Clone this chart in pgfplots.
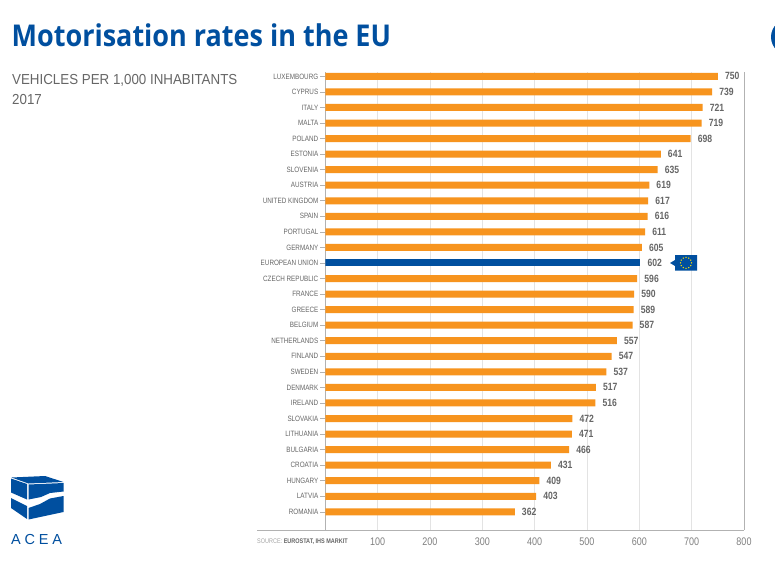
\documentclass[border=0pt]{standalone}
\usepackage{fontspec}
\setmainfont{Liberation Sans}
\newfontfamily\cond[FakeStretch=0.82]{Liberation Sans}
\newfontfamily\subfont[FakeStretch=0.92]{Liberation Sans}
\newfontfamily\titlefont[FakeStretch=0.9]{Open Sans}
\usepackage{pgfplots}
\pgfplotsset{compat=1.18}
\definecolor{aceablue}{HTML}{004F9F}
\definecolor{aceaorange}{HTML}{F7941E}
\definecolor{labgrey}{HTML}{666666}
\definecolor{tickgrey}{HTML}{808080}
\definecolor{gridgrey}{HTML}{E3E3E3}

\begin{document}
\begin{tikzpicture}[x=1pt,y=1pt]
\clip (0,0) rectangle (775,566);
\fill[white] (0,0) rectangle (775,566);
\begin{axis}[
    at={(325.3pt,36pt)}, anchor=south west,
    scale only axis,
    width=418.7pt, height=457.6pt,
    xmin=0, xmax=800,
    ymin=-0.255, ymax=29.17,
    y dir=reverse,
    axis lines=left,
    axis line style={-, draw=black!30, line width=0.8pt},
    /pgf/number format/assume math mode=true,
    xtick={100,200,300,400,500,600,700,800},
    ytick={0,1,...,28},
    yticklabels={LUXEMBOURG,CYPRUS,ITALY,MALTA,POLAND,ESTONIA,SLOVENIA,AUSTRIA,UNITED KINGDOM,SPAIN,PORTUGAL,GERMANY,EUROPEAN UNION,CZECH REPUBLIC,FRANCE,GREECE,BELGIUM,NETHERLANDS,FINLAND,SWEDEN,DENMARK,IRELAND,SLOVAKIA,LITHUANIA,BULGARIA,CROATIA,HUNGARY,LATVIA,ROMANIA},
    xticklabel style={font=\cond\fontsize{11}{11}\selectfont, text=tickgrey, yshift=1pt},
    yticklabel style={font=\cond\fontsize{7.7}{7.7}\selectfont, text=labgrey, xshift=1.5pt},
    xtick style={draw=none},
    ytick style={draw=black!30, line width=0.6pt},
    tick align=outside,
    major tick length=5pt,
    xmajorgrids,
    major grid style={draw=gridgrey, line width=0.8pt},
    xbar, bar width=7pt, bar shift=0pt,
    point meta=x,
    nodes near coords,
    every node near coord/.append style={font=\cond\bfseries\fontsize{10.5}{10.5}\selectfont, text=labgrey, inner sep=0pt, xshift=7pt},
]
\addplot[fill=aceaorange, draw=none] coordinates {
    (750,0) (739,1) (721,2) (719,3) (698,4) (641,5) (635,6) (619,7) (617,8) (616,9)
    (611,10) (605,11) (596,13) (590,14) (589,15) (587,16) (557,17) (547,18) (537,19)
    (517,20) (516,21) (472,22) (471,23) (466,24) (431,25) (409,26) (403,27) (362,28)
};
\addplot[fill=aceablue, draw=none] coordinates {(602,12)};
\end{axis}
\begin{scope}[shift={(0,566)}, y=-1pt]
    % frame lines
    \draw[black!30, line width=0.8pt] (257,530) -- (744,530);
    \draw[black!30, line width=0.8pt] (744,72.5) -- (744,530);
    % heading
    \node[anchor=base west, inner sep=0pt, text=aceablue, font=\titlefont\bfseries\fontsize{30}{30}\selectfont] at (11.5,46.5) {Motorisation rates in the EU};
    \node[anchor=base west, inner sep=0pt, text=labgrey, font=\subfont\fontsize{14.5}{14.5}\selectfont] at (12,85) {VEHICLES PER 1,000 INHABITANTS};
    \node[anchor=base west, inner sep=0pt, text=labgrey, font=\subfont\fontsize{14.5}{14.5}\selectfont] at (12,105) {2017};
    % clipped circle at the right edge
    \fill[aceablue] (789,37) circle (18);
    % source
    \node[anchor=base west, inner sep=0pt, font=\cond\fontsize{6.7}{6.7}\selectfont, text=black!35] at (257,543.5) {SOURCE: \textcolor{labgrey}{\bfseries EUROSTAT, IHS MARKIT}};
    % EU flag callout
    \fill[aceablue] (670,263) -- (675,260) -- (675,255) -- (697,255) -- (697,270.5) -- (675,270.5) -- (675,266) -- cycle;
    \foreach \a in {0,30,...,330}
        \fill[yellow!85!orange] ({686+5.5*cos(\a)},{262.8+5.5*sin(\a)}) circle (0.75);
    % ACEA logo
    \fill[aceablue] (11,478.5) -- (27,484) -- (27,499.5) -- (11,492.5) -- cycle;
    \fill[aceablue] (11.5,477.5) -- (45,476) -- (63.5,482) -- (28.5,483.5) -- cycle;
    \fill[aceablue] (28.5,484.5) -- (63.5,483) -- (63.5,491.5) -- (50,493) -- (41,497) -- (28.5,499.5) -- cycle;
    \fill[aceablue] (11,498) -- (27,506) -- (27,519) -- (11,508) -- cycle;
    \fill[aceablue] (28.5,508) -- (40,504) -- (50,498.5) -- (63.5,496) -- (63.5,512) -- (28.5,519.5) -- cycle;
    \node[anchor=base west, inner sep=0pt, text=aceablue, font=\fontsize{14.5}{14.5}\selectfont] at (11,544) {A\hspace{3.8pt}C\hspace{3.8pt}E\hspace{3.8pt}A};
\end{scope}
\end{tikzpicture}
\end{document}
